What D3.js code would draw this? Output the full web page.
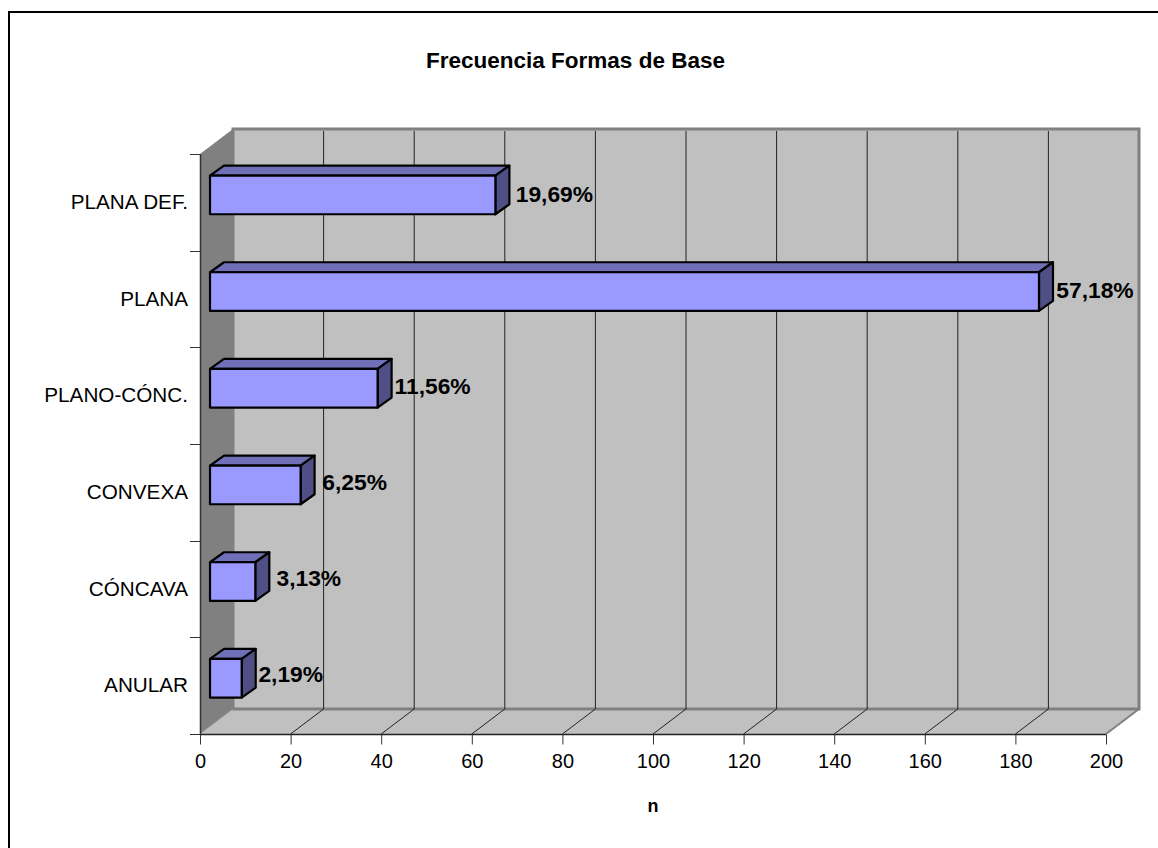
<!DOCTYPE html>
<html>
<head>
<meta charset="utf-8">
<script src="https://cdn.jsdelivr.net/npm/d3@7"></script>
<style>
  html, body { margin: 0; padding: 0; background: #fff; }
  svg { display: block; }
  text { font-family: "Liberation Sans", Arial, sans-serif; fill: #000; }
</style>
</head>
<body>
<svg id="chart" width="1158" height="848"></svg>
<script>
// Base-shape counts, listed top to bottom as the categories appear on the axis
const categories = ["PLANA DEF.", "PLANA", "PLANO-CÓNC.", "CONVEXA", "CÓNCAVA", "ANULAR"];
const counts = [63, 183, 37, 20, 10, 7];
const percentLabels = ["19,69%", "57,18%", "11,56%", "6,25%", "3,13%", "2,19%"];
const xTicks = [0, 20, 40, 60, 80, 100, 120, 140, 160, 180, 200];
const chartTitle = "Frecuencia Formas de Base";
const xTitle = "n";

const svg = d3.select("#chart");

// Front plane of the pseudo-3D plot and the shift towards its back wall
const x = d3.scaleLinear().domain([0, 200]).range([200, 1106]);
const y = d3.scaleBand().domain(categories).range([154, 734]);
const wallDx = 33, wallDy = -25;

// Each bar sits slightly inside the box and has its own shallow depth
const barOffsetX = 10, barDx = 14, barDy = -10;
const barHeight = y.bandwidth() * 0.4;
const barTop = d => y(d) + 21.6;

// Percentage labels keep a slightly tighter rhythm than the bars, and the
// automatic placement pushes each one a little differently along the bar axis
const labelY = d3.scalePoint().domain(categories).range([194, 674]);
const labelShift = [45, 42, 41, 40, 39.5, 35];

const [x0, x1] = x.range();
const [yTop, yBottom] = y.range();

// Chart frame, open past the right and bottom page edges
svg.append("rect")
  .attr("x", 9).attr("y", 12)
  .attr("width", 1200).attr("height", 900)
  .attr("fill", "#fff").attr("stroke", "#000").attr("stroke-width", 2);

// Floor, side wall and back wall
const wallFill = "#c0c0c0", edge = "#808080";
svg.append("polygon")
  .attr("points", [[x0, yBottom], [x1, yBottom], [x1 + wallDx, yBottom + wallDy], [x0 + wallDx, yBottom + wallDy]].join(" "))
  .attr("fill", wallFill);
svg.append("polygon")
  .attr("points", [[x0, yTop], [x0 + wallDx, yTop + wallDy], [x0 + wallDx, yBottom + wallDy], [x0, yBottom]].join(" "))
  .attr("fill", edge);
svg.append("rect")
  .attr("x", x0 + wallDx).attr("y", yTop + wallDy)
  .attr("width", x1 - x0).attr("height", yBottom - yTop)
  .attr("fill", wallFill).attr("stroke", edge).attr("stroke-width", 3);
svg.append("line")
  .attr("x1", x1).attr("y1", yBottom)
  .attr("x2", x1 + wallDx).attr("y2", yBottom + wallDy)
  .attr("stroke", edge).attr("stroke-width", 2);
svg.append("line")
  .attr("x1", x0).attr("y1", yBottom)
  .attr("x2", x0 + wallDx).attr("y2", yBottom + wallDy)
  .attr("stroke", "#a0a0a0").attr("stroke-width", 1);

// Gridlines run up the back wall and forward across the floor
const inner = xTicks.filter(t => t > 0 && t < 200);
const grid = svg.append("g").attr("stroke", "#222").attr("stroke-width", 1).attr("fill", "none");
grid.selectAll("path").data(inner).join("path")
  .attr("d", t => {
    const px = x(t);
    return d3.line()([[px, yBottom], [px + wallDx, yBottom + wallDy], [px + wallDx, yTop + wallDy + 2]]);
  });

// Axes
const xAxis = d3.axisBottom(x).tickValues(xTicks).tickSize(10).tickPadding(9).tickFormat(d3.format("d"));
const gx = svg.append("g").attr("transform", `translate(0,${yBottom + 0.5})`).call(xAxis);
gx.selectAll("text").attr("font-size", 20);
gx.select(".domain").attr("stroke", "#222").attr("stroke-width", 1.5).attr("d", `M${x0},0H${x1}`);
gx.selectAll(".tick line").attr("stroke", "#333");

// Category ticks fall on the band edges, labels in the band middle
const yEdges = categories.map(c => y(c)).concat(yBottom);
const gy = svg.append("g");
gy.append("line")
  .attr("x1", x0 + 0.5).attr("x2", x0 + 0.5)
  .attr("y1", yTop).attr("y2", yBottom)
  .attr("stroke", "#333").attr("stroke-width", 1.5);
gy.selectAll(".edge").data(yEdges).join("line").attr("class", "edge")
  .attr("x1", x0 - 10).attr("x2", x0)
  .attr("y1", d => Math.round(d) + 0.5).attr("y2", d => Math.round(d) + 0.5)
  .attr("stroke", "#333");
gy.selectAll("text").data(categories).join("text")
  .attr("x", x0 - 12)
  .attr("y", d => y(d) + y.bandwidth() / 2 + 6.5)
  .attr("text-anchor", "end")
  .attr("font-size", 20.7)
  .text(d => d);

// Bars: top face, end face, then the front face
const bars = svg.append("g").selectAll("g")
  .data(categories.map((c, i) => ({ c, v: counts[i], label: percentLabels[i], shift: labelShift[i] })))
  .join("g")
  .attr("stroke", "#000").attr("stroke-width", 2.2).attr("stroke-linejoin", "round");

const left = () => x0 + barOffsetX;
const right = d => x(d.v) + barOffsetX;

bars.append("polygon")
  .attr("fill", "#7070b8")
  .attr("points", d => [
    [left(), barTop(d.c)],
    [left() + barDx, barTop(d.c) + barDy],
    [right(d) + barDx, barTop(d.c) + barDy],
    [right(d), barTop(d.c)]
  ].join(" "));
bars.append("polygon")
  .attr("fill", "#4f4f85")
  .attr("points", d => [
    [right(d), barTop(d.c)],
    [right(d) + barDx, barTop(d.c) + barDy],
    [right(d) + barDx, barTop(d.c) + barDy + barHeight],
    [right(d), barTop(d.c) + barHeight]
  ].join(" "));
bars.append("rect")
  .attr("fill", "#9999ff")
  .attr("x", left())
  .attr("y", d => barTop(d.c))
  .attr("width", d => right(d) - left())
  .attr("height", barHeight);

// Percentage share beside each bar
bars.append("text")
  .attr("stroke", "none")
  .attr("x", d => right(d) + barDx + d.shift)
  .attr("y", d => labelY(d.c) + 8)
  .attr("text-anchor", "middle")
  .attr("font-size", 22.8)
  .attr("font-weight", "bold")
  .text(d => d.label);

// Titles
svg.append("text")
  .attr("x", 575.5).attr("y", 68)
  .attr("text-anchor", "middle")
  .attr("font-size", 22.5).attr("font-weight", "bold")
  .text(chartTitle);
svg.append("text")
  .attr("x", 653).attr("y", 812)
  .attr("text-anchor", "middle")
  .attr("font-size", 18).attr("font-weight", "bold")
  .text(xTitle);
</script>
</body>
</html>
